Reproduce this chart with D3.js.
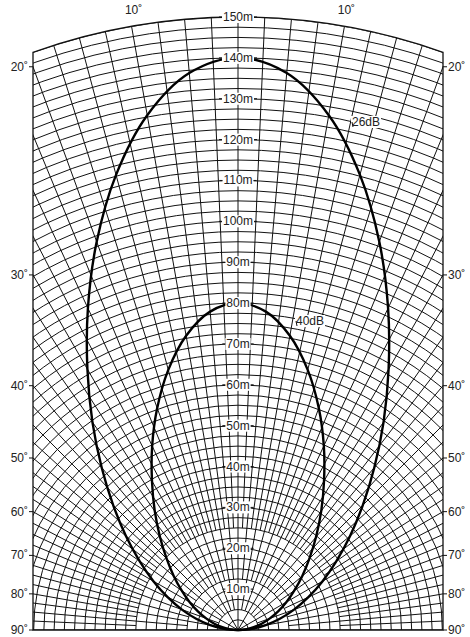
<!DOCTYPE html>
<html><head><meta charset="utf-8">
<script src="https://cdn.jsdelivr.net/npm/d3@7"></script>
<style>body{margin:0;background:#fff}text{font-family:"Liberation Sans Narrow","Arial Narrow",sans-serif;font-size:12px;fill:#222}</style>
</head><body><svg id="c" width="470" height="637"></svg>
<script>
const angles = [0,5,10,15,20,25,30,35,40,45,50,55,60,65,70,75,80,85,90];
const db26 = [140,136.8,127.9,115.3,101.1,86.9,73.7,62.1,51.9,43.2,35.8,29.4,23.9,19.0,14.6,10.6,6.9,3.4,0];
const db40 = [80,78.2,73.1,65.9,57.8,49.7,42.1,35.5,29.7,24.7,20.5,16.8,13.7,10.9,8.3,6.1,3.9,1.9,0];
const distLabels = [10,20,30,40,50,60,70,80,90,100,110,120,130,140,150];
const angleLabels = [20,30,40,50,60,70,80,90];
const topLabels = [-10,10];

const svg = d3.select("#c");
const cx=238, cy=630, L=33, R=443;
const r = d3.scaleLinear().domain([0,150]).range([0,613]);
const rad = a => a*Math.PI/180;
const defs = svg.append("defs");
const cp = defs.append("clipPath").attr("id","clip");
cp.append("path").attr("d", ()=>{
  // intersection: rect within circle
  const p=d3.path(); const rr=r(150);
  const a0=Math.asin((cx-L)/rr);
  p.moveTo(L,cy); p.lineTo(L,cy-rr*Math.cos(a0));
  p.arc(cx,cy,rr,-Math.PI/2-a0,-Math.PI/2+a0);
  p.lineTo(R,cy); p.closePath(); return p.toString();
});
const g = svg.append("g").attr("clip-path","url(#clip)");
// arcs
for(let d=2.5; d<=150.01; d+=2.5){
  g.append("circle").attr("cx",cx).attr("cy",cy).attr("r",r(d)).attr("fill","none").attr("stroke","#111").attr("stroke-width",1);
}
// radials
for(let i=-36;i<=36;i++){
  const a=i*2.5; const aa=Math.abs(a);
  let r0 = (aa%30===0)?0:(aa%10===0?5:(aa%5===0?12.5:25));
  const t=rad(a);
  g.append("line")
   .attr("x1",cx+r(r0)*Math.sin(t)).attr("y1",cy-r(r0)*Math.cos(t))
   .attr("x2",cx+r(260)*Math.sin(t)).attr("y2",cy-r(260)*Math.cos(t))
   .attr("stroke","#111").attr("stroke-width",1);
}
// frame
const rr=r(150), a0=Math.asin((cx-L)/rr);
const fp=d3.path(); fp.moveTo(L,cy); fp.lineTo(L,cy-rr*Math.cos(a0));
fp.arc(cx,cy,rr,-Math.PI/2-a0,-Math.PI/2+a0); fp.lineTo(R,cy); fp.closePath();
svg.append("path").attr("d",fp.toString()).attr("fill","none").attr("stroke","#111").attr("stroke-width",1.3);

// curves
function curve(vals){
  const pts=[];
  for(let i=angles.length-1;i>=0;i--) pts.push([-rad(angles[i]), r(vals[i])]);
  for(let i=1;i<angles.length;i++) pts.push([rad(angles[i]), r(vals[i])]);
  return d3.lineRadial().angle(d=>d[0]).radius(d=>d[1]).curve(d3.curveCatmullRom)(pts);
}
[db26,db40].forEach(v=>svg.append("path").attr("d",curve(v)).attr("transform",`translate(${cx},${cy})`)
  .attr("fill","none").attr("stroke","#000").attr("stroke-width",2.4));

// distance labels
distLabels.forEach(d=>{
  const t=svg.append("text").attr("x",cx).attr("y",cy-r(d)+4).attr("text-anchor","middle").text(d+"m");
  const bb=t.node().getBBox();
  svg.insert("rect","text").attr("x",bb.x-1).attr("y",bb.y+1).attr("width",bb.width+2).attr("height",bb.height-2).attr("fill","#fff");
  svg.append("line").attr("x1",bb.x-4).attr("x2",bb.x-1).attr("y1",cy-r(d)).attr("y2",cy-r(d)).attr("stroke","#111");
  svg.append("line").attr("x1",bb.x+bb.width+1).attr("x2",bb.x+bb.width+4).attr("y1",cy-r(d)).attr("y2",cy-r(d)).attr("stroke","#111");
});
svg.selectAll("text").raise();

// angle labels sides
angleLabels.forEach(a=>{
  const y = a===90?cy:cy-(cx-L)/Math.tan(rad(a));
  svg.append("line").attr("x1",L-4).attr("x2",L).attr("y1",y).attr("y2",y).attr("stroke","#111");
  svg.append("line").attr("x1",R).attr("x2",R+4).attr("y1",y).attr("y2",y).attr("stroke","#111");
  svg.append("text").attr("x",L-5).attr("y",y+4).attr("text-anchor","end").text(a+"˚");
  svg.append("text").attr("x",R+5).attr("y",y+4).attr("text-anchor","start").text(a+"˚");
});
topLabels.forEach(a=>{
  const t=rad(a);
  svg.append("text").attr("x",cx+r(150)*Math.sin(t)+2).attr("y",cy-r(150)*Math.cos(t)-12).attr("text-anchor","middle").text(Math.abs(a)+"˚");
});
// curve labels
function lab(txt,x,y,lx,ly){
  svg.append("line").attr("x1",x).attr("y1",y).attr("x2",lx).attr("y2",ly).attr("stroke","#111");
  const t=svg.append("text").attr("x",x).attr("y",y+4).text(txt);
  const bb=t.node().getBBox();
  svg.insert("rect","text").attr("x",bb.x-1).attr("y",bb.y+1).attr("width",bb.width+2).attr("height",bb.height-2).attr("fill","#fff");
  t.raise();
}
lab("26dB",352,122,353,127);
lab("40dB",296,321,297,326);
</script></body></html>
